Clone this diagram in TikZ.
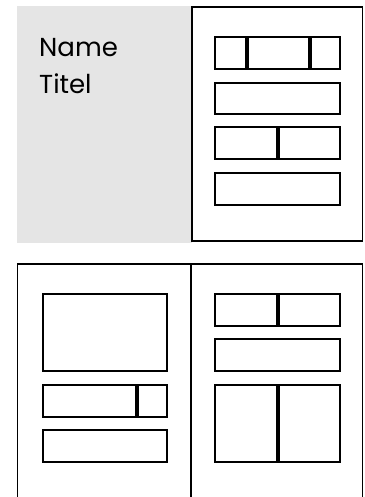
\documentclass[tikz,border=0pt]{standalone}
\usepackage{fontspec}
\setmainfont{Poppins}
\usepackage{xcolor}
\usetikzlibrary{positioning}

\definecolor{panelgrey}{HTML}{E5E5E5}

\tikzset{
  page/.style={draw=black, line width=1.8pt},
  cell/.style={draw=black, line width=2pt},
  label/.style={inner sep=0pt, anchor=base west, font=\fontsize{26}{40}\selectfont}
}

\begin{document}
\begin{tikzpicture}[x=1pt, y=-1pt]
\useasboundingbox (0,0) rectangle (364,497);

% title card
\fill[panelgrey] (17,6) rectangle (192,243);
\node[label] (name) at (39,57) {Name};
\node[label, below=16pt of name.south west, anchor=north west] (titel) {Titel};
\draw[page] (192,7) rectangle (362.5,241);
\draw[cell] (215,37) rectangle (245.5,69);
\draw[cell] (247.5,37) rectangle (308.5,69);
\draw[cell] (310.5,37) rectangle (340,69);
\draw[cell] (215,83) rectangle (340,114);
\draw[cell] (215,127) rectangle (276.5,159);
\draw[cell] (278.5,127) rectangle (340,159);
\draw[cell] (215,173) rectangle (340,205);

% spread, left page
\draw[page] (17.5,500) -- (17.5,264) -- (362.5,264) -- (362.5,500);
\draw[page] (191,264) -- (191,500);
\draw[cell] (43,294) rectangle (166.5,371);
\draw[cell] (43,385) rectangle (135.5,417);
\draw[cell] (137.5,385) rectangle (166.5,417);
\draw[cell] (43,430) rectangle (166.5,462);

% spread, right page
\draw[cell] (215,294) rectangle (276.5,326);
\draw[cell] (278.5,294) rectangle (340,326);
\draw[cell] (215,339) rectangle (340,371);
\draw[cell] (215,385) rectangle (276.5,462);
\draw[cell] (278.5,385) rectangle (340,462);
\end{tikzpicture}
\end{document}
